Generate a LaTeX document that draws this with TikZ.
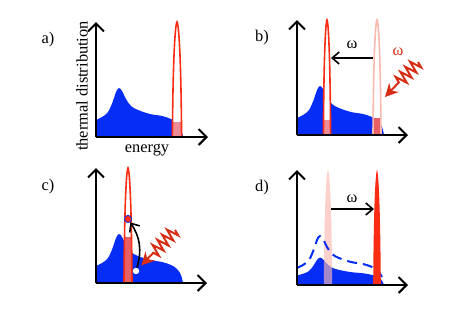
\documentclass[tikz,border=0pt]{standalone}
\usepackage{fontspec}
\setmainfont{Liberation Serif}
\usetikzlibrary{arrows.meta,decorations.pathmorphing}
\definecolor{bumpblue}{RGB}{5,45,245}
\definecolor{peakred}{RGB}{250,45,20}
\definecolor{peaklight}{RGB}{250,185,175}
\definecolor{basepink}{RGB}{238,140,150}
\definecolor{basered}{RGB}{232,95,100}
\definecolor{wavered}{RGB}{215,45,20}
\newcommand{\bumpfill}[1][]{\fill[bumpblue,#1] (0,0) -- plot[smooth,tension=0.6] coordinates {(0,17) (6,20) (12,25) (17,36) (20,45) (23,49) (26,46) (30,38) (35,31) (42,27) (54,23) (66,21) (75,18) (81,14) (85,8) (87,0)} -- cycle;}
\newcommand{\bumpdash}{\draw[bumpblue,line width=1pt,dash pattern=on 5pt off 3pt] plot[smooth,tension=0.6] coordinates {(0,17) (6,20) (12,25) (17,36) (20,45) (23,49) (26,46) (30,38) (35,31) (42,27) (54,23) (66,21) (75,18) (81,14) (85,8)};}
\newcommand{\peakpath}[3]{(#1-#2,0) .. controls (#1-0.85*#2,0.85*#3) and (#1-0.2*#2,#3) .. (#1,#3) .. controls (#1+0.2*#2,#3) and (#1+0.85*#2,0.85*#3) .. (#1+#2,0)}
% outline colour, base colour, position, half width, base height
\newcommand{\drawpeak}[5]{%
  \fill[white] \peakpath{#3}{#4}{115} -- cycle;
  \begin{scope}
    \clip \peakpath{#3}{#4}{115} -- cycle;
    \fill[#2] (#3-#4,0) rectangle (#3+#4,#5);
  \end{scope}
  \draw[#1,line width=0.8pt] \peakpath{#3}{#4}{115};
}
\tikzset{
  axis/.style={line width=1pt,-{Straight Barb[length=4pt,width=8pt]}},
  shiftarrow/.style={line width=0.8pt,-{Straight Barb[length=3.5pt,width=6pt]}},
  photon/.style={wavered,line width=1pt,decorate,
    decoration={zigzag,amplitude=3pt,segment length=3.5pt,post length=9pt},
    -{Stealth[length=6.5pt,width=6.5pt]}},
}

\begin{document}
\begin{tikzpicture}[x=0.5pt,y=0.5pt,font=\fontsize{8.2}{10}\selectfont]
  \useasboundingbox (0,0) rectangle (457,323);
  \node (label-a) at (48,283) {a)};
  \node (label-b) at (262,285) {b)};
  \node (label-c) at (48,136) {c)};
  \node (label-d) at (262,135) {d)};
  \node[rotate=90] (ylabel) at (82,237) {thermal distribution};
  \node (xlabel) at (147,173) {energy};

  % a) equilibrium
  \begin{scope}[shift={(96,186)}]
    \bumpfill
    \drawpeak{peakred}{basepink}{81}{4.6}{15}
    \draw[axis] (0,0) -- (0,115);
    \draw[axis] (0,0) -- (112,0);
  \end{scope}

  % b) shifted peak
  \begin{scope}[shift={(297,188)}]
    \bumpfill
    \drawpeak{peakred}{basepink}{30}{3.6}{15}
    \drawpeak{peaklight}{basered}{80}{4}{17}
    \draw[axis] (0,0) -- (0,115);
    \draw[axis] (0,0) -- (111,0);
    \coordinate (b-from) at (76,77);
    \coordinate (b-to) at (34,77);
    \draw[shiftarrow] (b-from) -- (b-to);
    \node (b-omega) at (55,90) {ω};
    \node[text=wavered] (b-omega-red) at (101,83) {ω};
    \coordinate (b-photon) at (121,73);
    \coordinate (b-hit) at (88,38);
    \draw[photon] (b-photon) -- (b-hit);
  \end{scope}

  % c) absorption
  \begin{scope}[shift={(96,40)}]
    \bumpfill
    \drawpeak{peakred}{basered}{32}{4}{46}
    \draw[axis] (0,0) -- (0,115);
    \draw[axis] (0,0) -- (111,0);
    \node[circle,fill=peakred,draw=bumpblue,line width=0.4pt,inner sep=0pt,minimum size=3.6pt] (excited) at (32,64) {};
    \node[circle,fill=white,inner sep=0pt,minimum size=3.2pt] (hole) at (40,12) {};
    \draw[shiftarrow] (hole) to[bend right=25] (excited);
    \coordinate (c-photon) at (79,53);
    \draw[photon,shorten >=2pt] (c-photon) -- (hole);
  \end{scope}

  % d) relaxed distribution
  \begin{scope}[shift={(297,38)}]
    \bumpfill[yscale=0.56]
    \fill[peaklight,fill opacity=0.65] \peakpath{31}{4.2}{115} -- cycle;
    \bumpdash
    \fill[peakred] \peakpath{80}{3.8}{115} -- cycle;
    \draw[axis] (0,0) -- (0,115);
    \draw[axis] (0,0) -- (111,0);
    \coordinate (d-from) at (34,76);
    \coordinate (d-to) at (77,76);
    \draw[shiftarrow] (d-from) -- (d-to);
    \node (d-omega) at (55,86) {ω};
  \end{scope}
\end{tikzpicture}
\end{document}
